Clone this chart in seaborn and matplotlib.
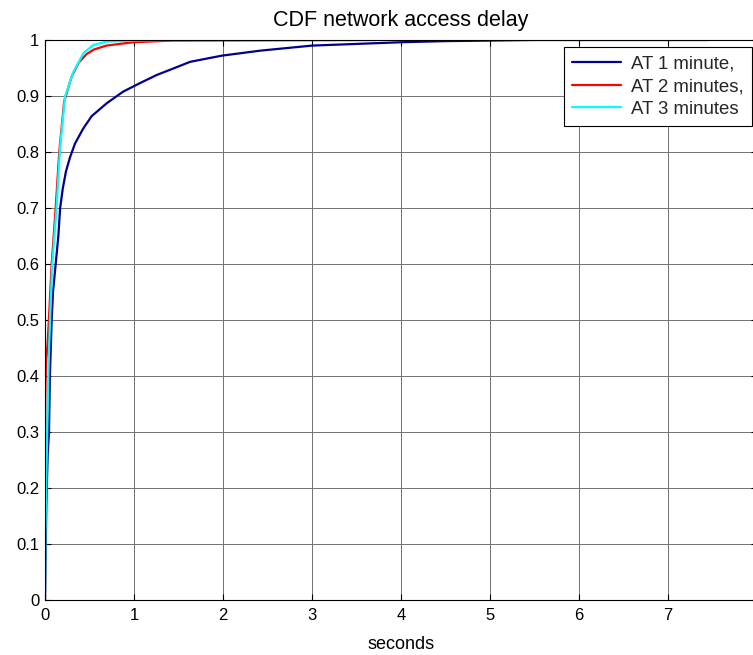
import numpy as np
import pandas as pd
import matplotlib
matplotlib.use("Agg")
import matplotlib.pyplot as plt
import seaborn as sns

# ---- data ----
series_names = ["AT 1 minute,", "AT 2 minutes,", "AT 3 minutes"]
colors = ["#00008f", "#ff0000", "#00ffff"]

x_at1 = [0.0, 0.015, 0.03, 0.045, 0.05, 0.055, 0.065, 0.075, 0.09, 0.12, 0.15, 0.17, 0.20,
         0.235, 0.28, 0.337, 0.43, 0.524, 0.693, 0.88, 1.067, 1.255, 1.44, 1.63, 1.985,
         2.42, 3.0, 3.5, 4.0, 4.5, 5.0, 5.5, 7.45]
y_at1 = [0.0, 0.17, 0.26, 0.30, 0.35, 0.40, 0.45, 0.50, 0.55, 0.60, 0.65, 0.70, 0.735,
         0.765, 0.79, 0.815, 0.842, 0.864, 0.887, 0.908, 0.923, 0.9375, 0.949, 0.961, 0.972,
         0.981, 0.990, 0.993, 0.996, 0.998, 0.999, 1.0, 1.0]

x_at2 = [0.0, 0.003, 0.01, 0.03, 0.05, 0.075, 0.12, 0.16, 0.215, 0.30, 0.38, 0.468, 0.55,
         0.69, 0.99, 1.44, 2.5, 3.72]
y_at2 = [0.0, 0.36, 0.42, 0.46, 0.52, 0.60, 0.70, 0.80, 0.89, 0.935, 0.960, 0.975, 0.983,
         0.990, 0.996, 0.999, 0.9995, 1.0]

x_at3 = [0.0, 0.005, 0.015, 0.025, 0.037, 0.056, 0.082, 0.13, 0.169, 0.225, 0.318, 0.43,
         0.54, 0.69, 1.0, 1.47]
y_at3 = [0.0, 0.12, 0.22, 0.30, 0.40, 0.50, 0.60, 0.70, 0.807, 0.899, 0.943, 0.976,
         0.991, 0.997, 0.999, 1.0]

x_ticks = [0, 1, 2, 3, 4, 5, 6, 7, 8]
y_ticks = [0, 0.1, 0.2, 0.3, 0.4, 0.5, 0.6, 0.7, 0.8, 0.9, 1]
y_tick_labels = ["0", "0.1", "0.2", "0.3", "0.4", "0.5", "0.6", "0.7", "0.8", "0.9", "1"]

df = pd.concat([
    pd.DataFrame({"x": x_at1, "y": y_at1, "series": series_names[0]}),
    pd.DataFrame({"x": x_at2, "y": y_at2, "series": series_names[1]}),
    pd.DataFrame({"x": x_at3, "y": y_at3, "series": series_names[2]}),
], ignore_index=True)

sns.set_theme(style="white")
plt.rcParams["font.family"] = ["Liberation Sans", "DejaVu Sans"]

fig = plt.figure(figsize=(7.53, 6.55), dpi=100)
ax = fig.add_axes([45 / 753, 55 / 655, 712 / 753, 560 / 655])

sns.lineplot(data=df, x="x", y="y", hue="series", hue_order=series_names,
             palette=colors, estimator=None, sort=False, linewidth=1.6, ax=ax,
             legend=False)

ax.set_xlim(0, 8)
ax.set_ylim(0, 1)
ax.set_xticks(x_ticks)
ax.set_xticklabels([str(t) for t in x_ticks])
ax.set_yticks(y_ticks)
ax.set_yticklabels(y_tick_labels)
ax.grid(True, color="#707070", linewidth=0.7, linestyle="-")
ax.set_axisbelow(True)
for sp in ax.spines.values():
    sp.set_color("black")
    sp.set_linewidth(0.8)
ax.tick_params(direction="in", length=4, width=0.8, colors="black",
               labelsize=12, top=True, right=True, bottom=True, left=True)
ax.tick_params(axis="x", pad=6)
ax.tick_params(axis="y", pad=4)

ax.set_title("CDF network access delay", fontsize=15.5, pad=10, color="black")
ax.set_xlabel("seconds", fontsize=13, labelpad=9, color="black")
ax.set_ylabel("")

handles = [plt.Line2D([], [], color=c, linewidth=1.6) for c in colors]
leg = ax.legend(handles, series_names, loc="upper right",
                bbox_to_anchor=(752 / 753, 1 - 47 / 655),
                bbox_transform=fig.transFigure,
                fontsize=13.4, frameon=True, fancybox=False, edgecolor="black",
                framealpha=1, handlelength=2.6, handletextpad=0.55,
                borderpad=0.45, labelspacing=0.3, borderaxespad=0)
leg.get_frame().set_linewidth(0.8)

fig.savefig("out.png", dpi=100)
